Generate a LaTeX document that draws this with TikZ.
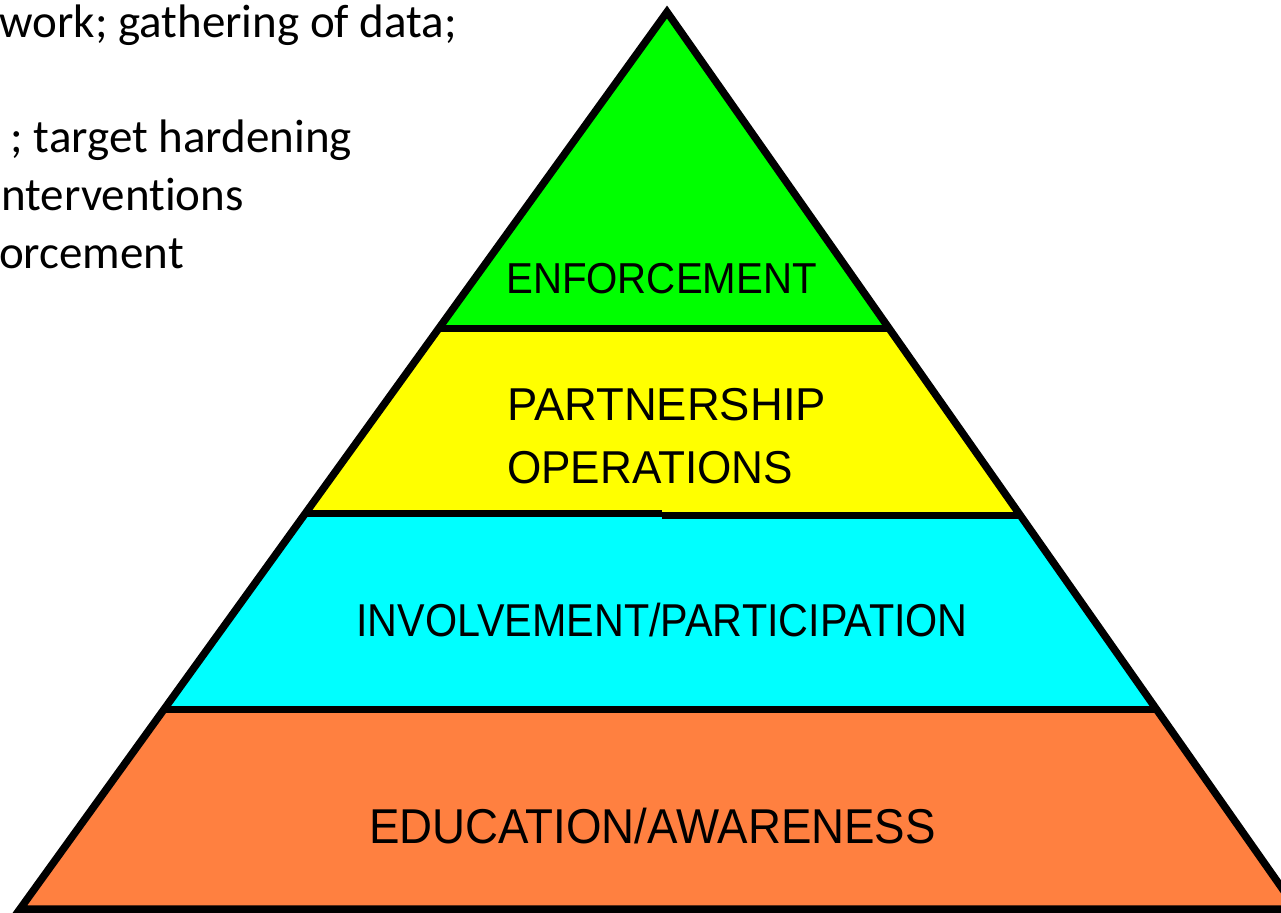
\documentclass[tikz,border=0pt]{standalone}
\usepackage{fontspec}
\usetikzlibrary{calc}
\setmainfont{Liberation Sans}
\newfontfamily\leftfont[Ligatures=NoCommon]{Carlito}
\definecolor{pgreen}{RGB}{0,255,0}
\definecolor{pyellow}{RGB}{255,255,0}
\definecolor{pcyan}{RGB}{0,255,255}
\definecolor{porange}{RGB}{255,128,64}
\begin{document}
\begin{tikzpicture}[x=1pt,y=-1pt,
  edge/.style={line width=7.5pt,black,line join=miter},
  divider/.style={line width=7pt,black},
  lefttext/.style={inner sep=0pt,anchor=base east,font=\leftfont\fontsize{47}{57.5}\selectfont},
  layertext/.style={inner sep=0pt,anchor=base,text=black}]
\useasboundingbox (0,0) rectangle (1281,912);
\fill[white] (0,0) rectangle (1281,912);
% corner coordinates
\coordinate (apex) at (667,12);
\coordinate (bl) at (20,909);
\coordinate (br) at (1296.6,909);
% layer boundary points on edges
\coordinate (l1) at ($(apex)!0.3523!(bl)$);
\coordinate (r1) at ($(apex)!0.3523!(br)$);
\coordinate (l2) at ($(apex)!0.5585!(bl)$);
\coordinate (r2) at ($(apex)!0.5585!(br)$);
\coordinate (l3) at ($(apex)!0.7781!(bl)$);
\coordinate (r3) at ($(apex)!0.7781!(br)$);
% fills
\fill[pgreen] (apex) -- (l1) -- (r1) -- cycle;
\fill[pyellow] (l1) -- (l2) -- (r2) -- (r1) -- cycle;
\fill[pcyan] (l2) -- (l3) -- (r3) -- (r2) -- cycle;
\fill[porange] (l3) -- (bl) -- (br) -- (r3) -- cycle;
% dividers
\draw[divider] (l1) -- (r1);
\coordinate (s1) at (662,513.5);
\coordinate (s2) at (662,515.5);
\draw[divider] (l2 |- s1) -- (s1);
\draw[divider] (s2) -- (r2 |- s2);
\draw[divider] (l3) -- (r3);
% outline
\draw[edge] (apex) -- (bl) -- (br) -- cycle;
% layer labels
\node[layertext] (enf) at (661.5,293) {\fontsize{43.3}{50}\selectfont\scalebox{0.929}[1]{ENFORCEMENT}};
\node[layertext,anchor=base west] (part) at (507,420) {\fontsize{46.1}{54}\selectfont\scalebox{0.985}[1]{PARTNERSHIP}};
\node[layertext,anchor=base west] (oper) at (507,483) {\fontsize{46.1}{54}\selectfont\scalebox{0.957}[1]{OPERATIONS}};
\node[layertext] (inv) at (662,636) {\fontsize{46.1}{54}\selectfont\scalebox{0.896}[1]{INVOLVEMENT/PARTICIPATION}};
\node[layertext] (edu) at (652.5,843) {\fontsize{48.9}{56}\selectfont\scalebox{0.934}[1]{EDUCATION/AWARENESS}};
% left text fragments
\node[lefttext] (t1) at (457,38) {work; gathering of data;};
\node[lefttext] (t3) at (352,153) {; target hardening};
\node[lefttext] (t4) at (244,210.5) {nterventions};
\node[lefttext] (t5) at (184,268) {orcement};
\end{tikzpicture}
\end{document}
